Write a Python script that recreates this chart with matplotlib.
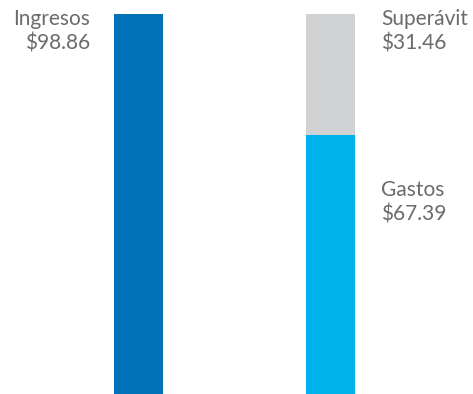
import matplotlib.pyplot as plt

categories = ["Ingresos", "Egresos"]
ingresos = [98.86]
gastos = [67.39]
superavit = [31.46]

BLUE = "#0071b9"
CYAN = "#00b2eb"
GRAY = "#d1d2d4"
TEXT = "#6a6b6d"

fig = plt.figure(figsize=(4.73, 3.94), dpi=100)
ax = fig.add_axes([0, 0, 1, 1])

ax.bar([0], ingresos, width=0.255, color=BLUE)
ax.bar([1], gastos, width=0.255, color=CYAN)
ax.bar([1], superavit, bottom=gastos, width=0.255, color=GRAY)

ax.set_xlim(-0.721, 1.742)
ax.set_ylim(0, ingresos[0] * 394 / 380)
ax.axis("off")

font = dict(family=["Lato", "DejaVu Sans"], fontweight="normal", color=TEXT,
            fontsize=15, linespacing=1.3, va="top")

fig.text(90 / 473, 1 - 9 / 394, "Ingresos\n$%.2f" % ingresos[0], ha="right", **font)
fig.text(381 / 473, 1 - 9 / 394, "Superávit\n$%.2f" % superavit[0], ha="left", **font)
fig.text(381 / 473, 1 - 180 / 394, "Gastos\n$%.2f" % gastos[0], ha="left", **font)

fig.savefig("out.png", dpi=100)
